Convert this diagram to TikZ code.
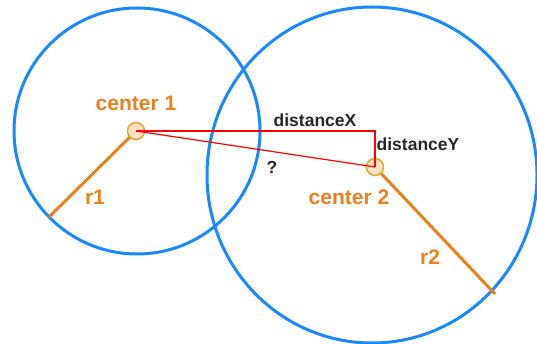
\documentclass[tikz,border=0pt]{standalone}
\usepackage{fontspec}
\setmainfont{Liberation Sans}
\usepackage{tikz}
\usetikzlibrary{arrows,positioning}
\definecolor{ringblue}{HTML}{1A88FF}
\definecolor{radorange}{HTML}{E8801E}
\definecolor{markfill}{HTML}{FFE0C2}
\definecolor{markdraw}{HTML}{DCAA30}
\tikzstyle{main node}=[circle,fill=markfill,draw=markdraw,line width=1.5pt,inner sep=0pt,minimum size=17pt]
\tikzstyle{ring}=[draw=ringblue,line width=3pt]
\tikzstyle{radius line}=[draw=radorange,line width=3pt]
\tikzstyle{dist line}=[draw=red,line width=1.2pt]
\tikzstyle{orange label}=[text=radorange,font=\fontsize{21}{23}\selectfont\bfseries,inner sep=0pt]
\tikzstyle{black label}=[text=black!85,font=\fontsize{17.5}{19}\selectfont\bfseries,inner sep=0pt]

\begin{document}
\begin{tikzpicture}[x=1pt,y=-1pt]
%
  \useasboundingbox (0,0) rectangle (537,344);
  \path[ring] (137,131) circle (123);
  \path[ring] (372,175) ellipse (165 and 168);
%
  \coordinate (c1pos) at (136,131);
  \coordinate (c2pos) at (375,167);
  \coordinate (r1end) at (49,217);
  \coordinate (r2end) at (495,294);
  \coordinate (corner) at (375,131);
  \path[radius line] (c1pos) -- (r1end);
  \path[radius line] (c2pos) -- (r2end);
%
  \node[main node] (c1) at (c1pos) {};
  \node[main node] (c2) at (c2pos) {};
  \path[dist line] (c1.center) -- (corner) -- (c2.center);
  \path[dist line] (c1.center) -- (c2.center);
%
  \node[orange label] (lc1) [above=20pt of c1.center] {center 1};
  \node[orange label] (lc2) at (349,197) {center 2};
  \node[orange label] (lr1) at (95,197) {r1};
  \node[orange label] (lr2) at (430,257) {r2};
  \node[black label] (ldx) at (315,120) {distanceX};
  \node[black label] (ldy) at (418,144) {distanceY};
  \node[black label] (lq) at (272,167) {?};
%
\end{tikzpicture}
\end{document}
